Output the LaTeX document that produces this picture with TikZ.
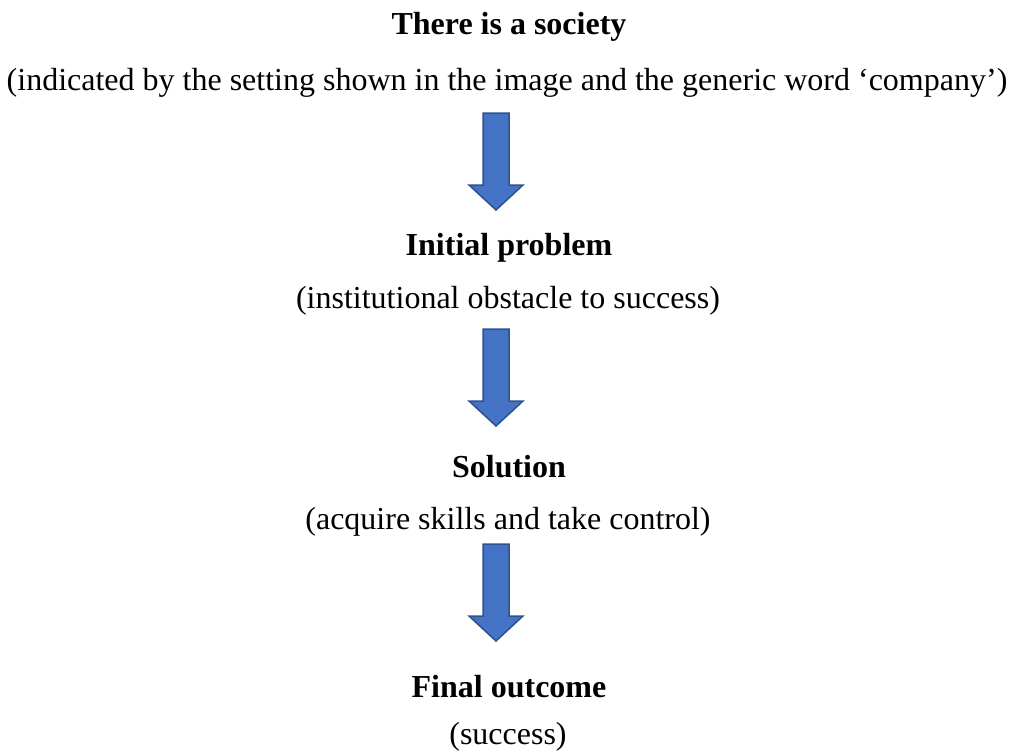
\documentclass[tikz,border=0pt]{standalone}
\usepackage{fontspec}
\setmainfont{Liberation Serif}
\usepackage{tikz}
\usetikzlibrary{positioning}

\definecolor{arrowfill}{HTML}{4472C4}
\definecolor{arrowline}{HTML}{2F528F}

\begin{document}
\begin{tikzpicture}[x=1pt, y=-1pt,
                    title node/.style={anchor=base, font=\fontsize{32}{38}\selectfont\bfseries},
                    sub node/.style={anchor=base, font=\fontsize{32}{38}\selectfont},
                    block arrow/.style={fill=arrowfill, draw=arrowline, line width=1.5pt, line join=miter}]

  \useasboundingbox (0,0) rectangle (1013,755);

  % text lines
  \node[title node] (society)  at (509,34)  {There is a society};
  \node[sub node]   (setting)  at (507,90)  {(indicated by the setting shown in the image and the generic word ‘company’)};
  \node[title node] (problem)  at (509,255) {Initial problem};
  \node[sub node]   (obstacle) at (508,308) {(institutional obstacle to success)};
  \node[title node] (solution) at (509,477) {Solution};
  \node[sub node]   (skills)   at (508,529) {(acquire skills and take control)};
  \node[title node] (outcome)  at (509,697) {Final outcome};
  \node[sub node]   (success)  at (508,744) {(success)};

  % block arrows
  \foreach \t in {113,329,544}
    \draw[block arrow] (483,\t) -- (509,\t) -- (509,\t+72) -- (523,\t+72)
                       -- (496,\t+97) -- (469,\t+72) -- (483,\t+72) -- cycle;
\end{tikzpicture}
\end{document}
